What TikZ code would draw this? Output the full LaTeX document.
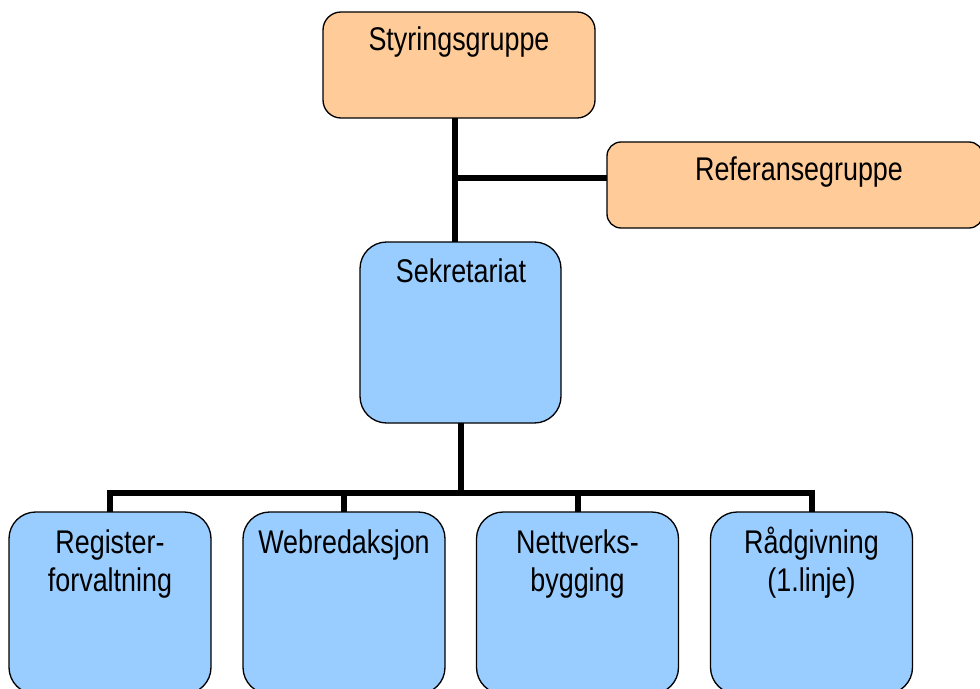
\documentclass[tikz,border=0pt]{standalone}
\usepackage{fontspec}
\setmainfont{Liberation Sans}[FakeStretch=0.82]
\definecolor{orangebox}{HTML}{FFCC99}
\definecolor{bluebox}{HTML}{99CCFF}
\begin{document}
\begin{tikzpicture}[x=0.75pt,y=-0.75pt,
  box/.style={draw=black,line width=1pt,inner sep=0pt,outer sep=0pt,rectangle},
  obox/.style={box,fill=orangebox},
  bbox/.style={box,fill=bluebox,minimum width=151.5pt,minimum height=136.5pt,rounded corners=20pt},
  lbl/.style={anchor=base,inner sep=0pt,font=\fontsize{24.6pt}{27.75pt}\selectfont},
  conn/.style={draw=black,line width=4.5pt,line join=miter}]
\useasboundingbox (0,0) rectangle (980,688);
\clip (0,0) rectangle (980,688);
% boxes
\node[obox,minimum width=204pt,minimum height=79.5pt,rounded corners=13.5pt] (sty) at (459,65) {};
\node[obox,minimum width=282pt,minimum height=64.5pt,rounded corners=10.5pt] (ref) at (795,185) {};
\node[bbox,minimum width=150.75pt,minimum height=135.75pt] (sek) at (460.5,332.5) {};
\node[bbox] (b1) at (110,603) {};
\node[bbox] (b2) at (344,603) {};
\node[bbox] (b3) at (577.5,603) {};
\node[bbox] (b4) at (811.5,603) {};
% labels
\node[lbl] (tsty) at (459,51) {Styringsgruppe};
\node[lbl] (tref) at (799,180) {Referansegruppe};
\node[lbl] (tsek) at (461,282) {Sekretariat};
\node[lbl] (t1a) at (110,553) {Register-};
\node[lbl] (t1b) at (110,591) {forvaltning};
\node[lbl] (t2a) at (344,553) {Webredaksjon};
\node[lbl] (t3a) at (577.5,553) {Nettverks-};
\node[lbl] (t3b) at (577.5,591) {bygging};
\node[lbl] (t4a) at (811.5,553) {Rådgivning};
\node[lbl] (t4b) at (811.5,591) {(1.linje)};
% connectors
\coordinate (j1) at (455,178);
\coordinate (bus) at (461,493);
\draw[conn] (sty.south -| j1) -- (sek.north -| j1);
\draw[conn] (j1) -- (ref.west |- j1);
\draw[conn] (sek.south -| bus) -- (bus);
\draw[conn] (b1.north) -- (b1.north |- bus) -- (b4.north |- bus) -- (b4.north);
\draw[conn] (b2.north) -- (b2.north |- bus);
\draw[conn] (b3.north) -- (b3.north |- bus);
\end{tikzpicture}
\end{document}
